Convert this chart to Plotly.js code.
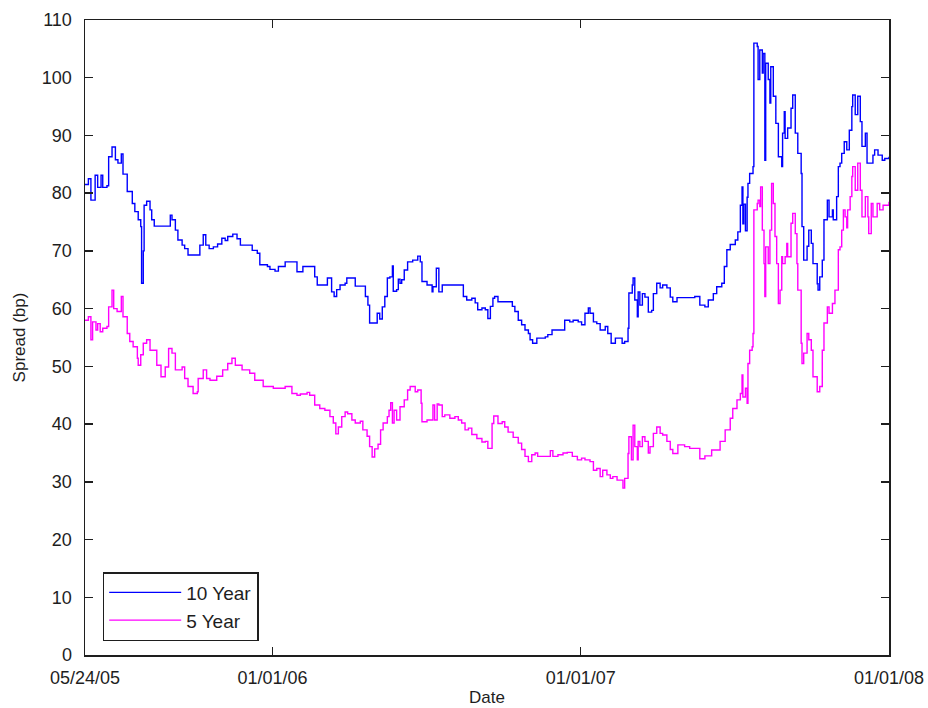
<!DOCTYPE html>
<html>
<head>
<meta charset="utf-8">
<script src="https://cdn.plot.ly/plotly-3.0.1.min.js"></script>
<style>
  html, body { margin: 0; padding: 0; background: #fff; }
  #chart { width: 928px; height: 708px; }
</style>
</head>
<body>
<div id="chart"></div>
<script>
// days counted from the first observation, 05/24/05
const START_DATE = '2005-05-24';

const tenYearDays = [0, 4, 7, 12, 15, 19, 21, 26, 28, 32, 36, 39, 43, 45, 50, 56, 59, 63, 66, 67, 69, 70, 73, 77, 79, 82, 86, 95, 101, 103, 107, 110, 115, 118, 122, 133, 136, 140, 143, 147, 152, 157, 162, 166, 169, 175, 180, 184, 193, 198, 204, 207, 216, 219, 225, 229, 237, 243, 251, 258, 266, 272, 275, 281, 287, 290, 292, 295, 298, 302, 308, 310, 316, 320, 328, 332, 335, 337, 343, 346, 349, 352, 355, 358, 361, 364, 365, 369, 371, 373, 375, 378, 382, 388, 394, 397, 399, 405, 411, 412, 416, 418, 419, 423, 435, 446, 448, 452, 458, 462, 465, 470, 474, 477, 480, 483, 485, 489, 501, 506, 509, 513, 517, 521, 525, 527, 530, 535, 545, 548, 553, 565, 568, 574, 578, 584, 588, 592, 596, 598, 602, 606, 610, 613, 616, 619, 623, 628, 631, 636, 639, 643, 644, 648, 649, 651, 654, 655, 657, 660, 663, 667, 671, 673, 677, 681, 684, 689, 693, 696, 701, 710, 716, 722, 728, 734, 738, 744, 748, 754, 757, 760, 764, 770, 773, 776, 778, 779, 780, 782, 784, 785, 787, 791, 792, 796, 797, 799, 802, 803, 805, 806, 809, 811, 812, 815, 818, 821, 825, 826, 828, 829, 832, 836, 838, 841, 844, 848, 849, 851, 855, 857, 860, 862, 867, 868, 870, 873, 875, 879, 881, 885, 886, 890, 892, 894, 896, 899, 902, 905, 908, 909, 912, 915, 918, 920, 924, 926, 930, 933, 935, 939, 944, 947, 952];
const tenYearSpread = [81.5, 82.5, 78.8, 83.1, 81.0, 83.1, 81.0, 81.3, 86.3, 88.0, 85.8, 85.2, 86.8, 83.3, 80.3, 78.2, 76.8, 75.4, 74.2, 64.4, 70.0, 77.9, 78.6, 77.1, 75.4, 74.3, 74.3, 74.3, 76.2, 75.4, 73.6, 71.9, 71.0, 70.4, 69.3, 69.3, 71.0, 72.8, 71.0, 70.4, 70.7, 71.2, 72.2, 71.8, 72.5, 72.9, 72.1, 71.0, 71.0, 70.1, 69.6, 67.6, 67.3, 66.8, 66.5, 67.3, 68.1, 68.1, 66.4, 67.3, 67.3, 65.5, 64.1, 64.1, 65.3, 65.3, 62.9, 62.1, 63.3, 64.1, 64.4, 65.3, 65.3, 63.9, 63.9, 62.1, 60.6, 57.5, 57.5, 59.2, 58.2, 60.3, 62.1, 65.3, 65.5, 67.4, 63.0, 63.3, 65.1, 64.4, 65.0, 66.7, 68.1, 68.4, 69.1, 68.1, 64.7, 64.1, 62.9, 63.8, 67.0, 67.0, 62.9, 64.1, 64.1, 64.1, 62.1, 61.5, 61.8, 61.0, 59.8, 60.1, 59.8, 58.3, 60.4, 61.8, 62.1, 61.2, 61.2, 60.4, 59.5, 58.0, 57.2, 56.3, 55.7, 54.6, 54.0, 54.9, 55.1, 55.5, 56.3, 56.3, 58.0, 57.7, 58.0, 57.7, 57.2, 59.2, 60.1, 59.2, 57.7, 57.4, 56.3, 56.3, 56.9, 55.7, 54.0, 54.9, 54.9, 54.0, 54.3, 56.6, 62.7, 64.1, 65.3, 61.5, 58.6, 62.9, 60.6, 62.6, 62.0, 59.4, 59.7, 62.6, 64.4, 63.6, 64.1, 63.6, 62.0, 61.2, 61.9, 61.9, 61.9, 62.1, 60.6, 60.3, 61.5, 62.6, 63.8, 64.4, 67.3, 70.2, 71.1, 71.9, 73.3, 77.9, 81.1, 74.7, 78.1, 73.5, 79.3, 81.7, 83.4, 84.6, 106.0, 105.4, 99.7, 104.8, 100.8, 104.2, 85.7, 102.5, 99.7, 95.6, 101.9, 96.8, 92.1, 86.3, 84.6, 90.4, 94.1, 89.5, 91.3, 94.7, 97.0, 90.4, 86.9, 83.4, 74.2, 68.4, 70.8, 73.6, 71.3, 67.8, 64.3, 63.2, 65.5, 68.4, 75.4, 78.8, 75.9, 77.1, 75.4, 79.4, 84.6, 85.2, 86.9, 88.9, 87.5, 90.9, 95.0, 97.0, 93.6, 96.8, 92.4, 88.1, 90.4, 85.2, 85.2, 86.6, 87.5, 86.6, 85.7, 86.0, 86.3];

const fiveYearDays = [0, 4, 7, 9, 13, 15, 18, 21, 26, 28, 32, 34, 38, 43, 45, 50, 53, 57, 62, 63, 66, 69, 73, 77, 81, 85, 90, 95, 99, 103, 107, 115, 118, 122, 128, 133, 134, 140, 144, 148, 156, 163, 169, 174, 178, 186, 195, 201, 211, 223, 231, 237, 240, 245, 251, 255, 263, 266, 272, 278, 284, 290, 294, 297, 300, 304, 308, 311, 316, 320, 326, 329, 334, 337, 340, 343, 347, 350, 353, 358, 360, 362, 364, 366, 369, 373, 378, 382, 385, 391, 394, 398, 399, 405, 409, 412, 414, 417, 419, 423, 426, 432, 438, 442, 446, 450, 454, 458, 464, 470, 474, 477, 482, 484, 489, 494, 497, 501, 507, 513, 517, 521, 525, 529, 533, 536, 542, 547, 551, 554, 560, 566, 571, 577, 583, 588, 592, 598, 602, 606, 610, 613, 618, 622, 625, 630, 634, 637, 639, 643, 644, 647, 649, 651, 654, 655, 657, 660, 663, 667, 669, 673, 677, 681, 684, 689, 693, 696, 702, 710, 716, 728, 734, 742, 752, 758, 764, 767, 772, 776, 778, 779, 782, 784, 785, 787, 790, 791, 792, 796, 797, 799, 800, 802, 804, 805, 806, 809, 811, 813, 815, 817, 819, 821, 823, 825, 826, 829, 831, 832, 836, 838, 841, 843, 844, 848, 849, 851, 855, 857, 860, 862, 867, 870, 873, 875, 879, 881, 885, 888, 892, 894, 896, 898, 900, 902, 903, 906, 908, 909, 912, 915, 918, 920, 924, 927, 928, 931, 933, 938, 941, 945, 952];
const fiveYearSpread = [58.0, 58.6, 54.6, 57.7, 56.3, 57.4, 56.0, 56.6, 56.9, 60.3, 63.2, 60.0, 59.5, 62.1, 58.6, 55.7, 54.3, 53.4, 51.4, 50.2, 52.0, 54.0, 54.6, 52.8, 52.8, 50.2, 48.2, 49.9, 53.1, 52.3, 49.4, 49.9, 47.9, 46.5, 45.3, 45.6, 47.9, 49.4, 47.9, 47.6, 48.3, 49.4, 50.5, 51.4, 50.2, 49.4, 48.8, 47.6, 46.5, 46.2, 46.2, 46.5, 46.5, 45.3, 45.0, 45.2, 45.5, 45.0, 43.3, 42.7, 42.4, 41.3, 40.2, 38.3, 39.5, 41.3, 42.1, 41.8, 40.7, 40.2, 40.5, 39.0, 37.9, 36.1, 34.3, 35.7, 36.5, 39.0, 40.2, 41.3, 42.4, 43.7, 40.2, 42.4, 40.7, 43.0, 44.2, 45.9, 46.5, 45.6, 45.9, 43.6, 40.4, 40.7, 40.7, 43.3, 40.7, 43.5, 43.3, 41.3, 41.6, 41.0, 41.3, 40.7, 40.2, 39.0, 39.3, 38.2, 37.5, 36.9, 37.0, 35.8, 40.1, 41.4, 40.1, 40.4, 39.5, 38.6, 37.7, 36.7, 35.6, 34.4, 33.5, 34.7, 35.0, 34.4, 34.4, 34.4, 35.4, 34.4, 34.7, 35.0, 35.1, 34.4, 33.8, 34.1, 33.8, 33.5, 32.0, 32.3, 30.9, 32.0, 31.2, 30.6, 30.9, 30.3, 30.3, 28.9, 30.6, 34.9, 37.8, 33.8, 39.8, 36.1, 33.8, 37.0, 36.1, 37.8, 37.0, 35.0, 36.1, 38.4, 39.5, 38.4, 38.1, 37.0, 35.6, 34.9, 36.4, 36.1, 35.8, 34.0, 34.5, 35.5, 37.0, 39.0, 41.0, 42.7, 44.2, 45.3, 48.5, 44.7, 46.2, 43.6, 50.5, 52.8, 53.4, 55.7, 77.1, 78.2, 78.8, 77.7, 81.1, 73.6, 67.8, 62.1, 70.7, 67.8, 73.6, 81.7, 78.2, 72.5, 67.8, 60.9, 63.2, 69.0, 67.8, 69.0, 71.3, 69.0, 74.8, 76.5, 73.0, 67.8, 63.2, 54.0, 50.5, 52.3, 55.7, 54.6, 52.8, 48.2, 45.6, 46.5, 52.8, 57.5, 60.3, 59.2, 60.9, 63.2, 70.2, 70.7, 73.6, 77.1, 75.9, 74.0, 77.1, 79.4, 82.9, 84.6, 80.5, 85.2, 80.5, 75.9, 79.4, 75.9, 73.0, 78.2, 75.9, 78.2, 77.1, 77.9, 78.5];

const tickDates = ['2005-05-24', '2006-01-01', '2007-01-01', '2008-01-01'];
const tickLabels = ['05/24/05', '01/01/06', '01/01/07', '01/01/08'];

const FONT = 'Liberation Sans, Arial, sans-serif';
const INK = '#1e1e1e';

function toDates(days) {
  const t0 = Date.parse(START_DATE + 'T00:00:00Z');
  return days.map(d => new Date(t0 + d * 86400000).toISOString().slice(0, 10));
}

const traces = [
  {
    x: toDates(tenYearDays), y: tenYearSpread, name: '10 Year',
    type: 'scatter', mode: 'lines',
    line: { color: '#0000ff', width: 1.4, shape: 'hv' }
  },
  {
    x: toDates(fiveYearDays), y: fiveYearSpread, name: '5 Year',
    type: 'scatter', mode: 'lines',
    line: { color: '#ff00ff', width: 1.4, shape: 'hv' }
  }
];

const axisCommon = {
  showline: true, linecolor: INK, linewidth: 1.5,
  mirror: 'ticks', ticks: 'inside', ticklen: 8, tickwidth: 1.5, tickcolor: INK,
  showgrid: false, zeroline: false,
  tickfont: { family: FONT, size: 18, color: INK }
};

const layout = {
  width: 928, height: 708,
  margin: { l: 85, r: 39, t: 20, b: 53 },
  paper_bgcolor: '#fff', plot_bgcolor: '#fff',
  font: { family: FONT, color: INK },
  showlegend: true,
  legend: {
    x: 0.022, y: 0.022, xanchor: 'left', yanchor: 'bottom',
    bgcolor: '#fff', bordercolor: INK, borderwidth: 1.5,
    itemwidth: 72, entrywidth: 150,
    font: { family: FONT, size: 19, color: INK }
  },
  xaxis: Object.assign({}, axisCommon, {
    type: 'date', range: [tickDates[0], tickDates[3]],
    tickmode: 'array', tickvals: tickDates, ticktext: tickLabels,
    ticklabelstandoff: 6,
    title: { text: 'Date', font: { family: FONT, size: 17, color: INK }, standoff: 4 },
    automargin: false
  }),
  yaxis: Object.assign({}, axisCommon, {
    range: [0, 110], dtick: 10, tick0: 0,
    ticklabelstandoff: 8,
    title: { text: 'Spread (bp)', font: { family: FONT, size: 17, color: INK }, standoff: 12 },
    automargin: false
  })
};

Plotly.newPlot('chart', traces, layout, { staticPlot: true, displayModeBar: false });
</script>
</body>
</html>
